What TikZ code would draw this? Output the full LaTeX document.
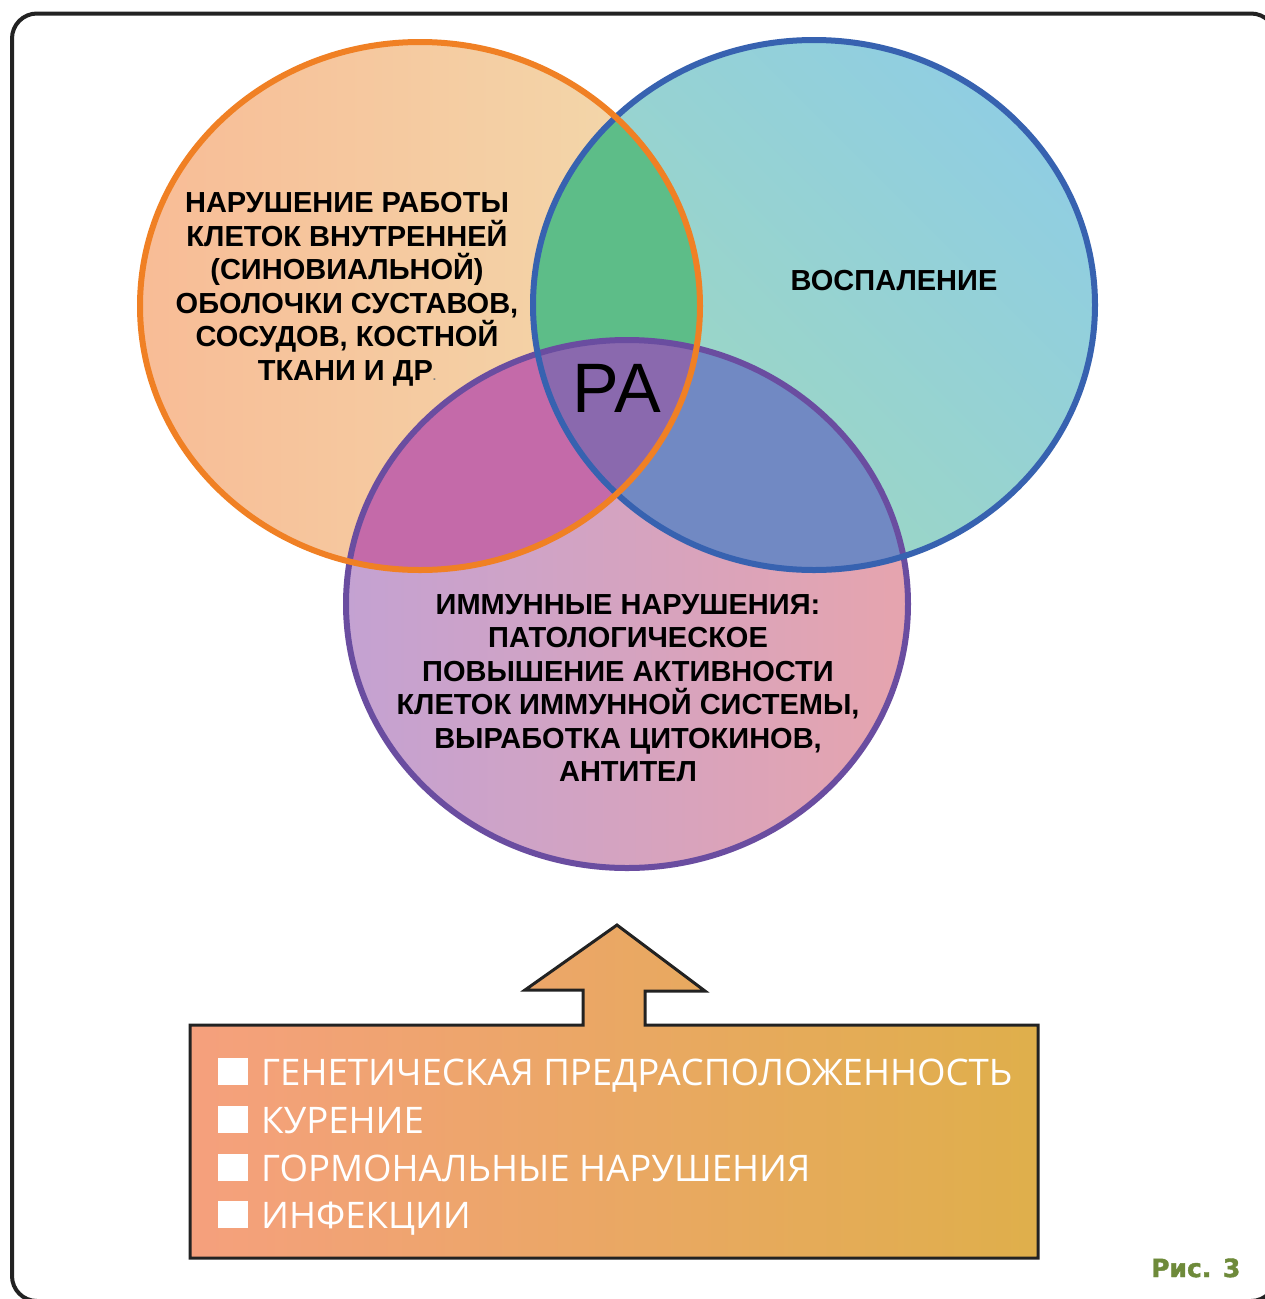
\documentclass[tikz,border=0pt]{standalone}
\usepackage{fontspec}
\setmainfont{Liberation Sans}
\newfontfamily\itemfont{Open Sans}
\newfontfamily\figfont{DejaVu Sans Bold}[FakeBold=1.6]
\definecolor{orA}{HTML}{F8BC96}
\definecolor{orB}{HTML}{F2DAAC}
\definecolor{blA}{HTML}{9ED8BE}
\definecolor{blB}{HTML}{90CEE2}
\definecolor{puA}{HTML}{C4A2D2}
\definecolor{puB}{HTML}{E6A4AE}
\definecolor{ovOB}{HTML}{5DBD88}
\definecolor{ovOP}{HTML}{C46AA9}
\definecolor{ovBP}{HTML}{7189C3}
\definecolor{ovAll}{HTML}{8A69AE}
\definecolor{lnO}{HTML}{F08024}
\definecolor{lnB}{HTML}{3762B0}
\definecolor{lnP}{HTML}{6A4DA0}
\definecolor{boxA}{HTML}{F5A07D}
\definecolor{boxB}{HTML}{DFAF4B}
\definecolor{figgreen}{HTML}{6E8A3A}
\definecolor{framecol}{HTML}{222222}
\begin{document}
\begin{tikzpicture}[x=1pt,y=-1pt,
  ring/.style={line width=6pt},
  lbl/.style={align=center, inner sep=0pt, text=black,
    font=\bfseries\fontsize{29}{33.5}\selectfont},
  item/.style={anchor=base west, inner sep=0pt, text=white,
    font=\itemfont\fontsize{36.6}{40}\selectfont}]
\useasboundingbox (0,0) rectangle (1265,1299);
\fill[white] (0,0) rectangle (1265,1299);
\begin{scope}
  \clip (0,0) rectangle (1265,1299);
  \draw[framecol, line width=4pt, rounded corners=25pt] (12,13.5) rectangle (1276,1301);
\end{scope}

% base fills
\shade[left color=orA, right color=orB] (420,306) ellipse [x radius=280pt, y radius=264pt];
\shade[bottom color=blA, top color=blB, shading angle=-45] (814,305) ellipse [x radius=281pt, y radius=265pt];
\shade[left color=puA, right color=puB] (627,604) ellipse [x radius=281pt, y radius=264pt];

% overlaps
\begin{scope}
  \clip (420,306) ellipse [x radius=280pt, y radius=264pt];
  \fill[ovOB] (814,305) ellipse [x radius=281pt, y radius=265pt];
  \fill[ovOP] (627,604) ellipse [x radius=281pt, y radius=264pt];
\end{scope}
\begin{scope}
  \clip (814,305) ellipse [x radius=281pt, y radius=265pt];
  \fill[ovBP] (627,604) ellipse [x radius=281pt, y radius=264pt];
\end{scope}
\begin{scope}
  \clip (420,306) ellipse [x radius=280pt, y radius=264pt];
  \clip (814,305) ellipse [x radius=281pt, y radius=265pt];
  \fill[ovAll] (627,604) ellipse [x radius=281pt, y radius=264pt];
\end{scope}

% outlines
\draw[ring, lnP] (627,604) ellipse [x radius=281pt, y radius=264pt];
\draw[ring, lnB] (814,305) ellipse [x radius=281pt, y radius=265pt];
\draw[ring, lnO] (420,306) ellipse [x radius=280pt, y radius=264pt];

% texts in circles
\node[lbl] (synov) at (347,289.5) {НАРУШЕНИЕ РАБОТЫ\\КЛЕТОК ВНУТРЕННЕЙ\\(СИНОВИАЛЬНОЙ)\\ОБОЛОЧКИ СУСТАВОВ,\\СОСУДОВ, КОСТНОЙ\\ТКАНИ И ДР{\fontsize{12}{12}\selectfont\color{gray}.}};
\node[lbl, anchor=base] (vospal) at (894,290) {ВОСПАЛЕНИЕ};
\node[lbl] (immun) at (628,688) {ИММУННЫЕ НАРУШЕНИЯ:\\ПАТОЛОГИЧЕСКОЕ\\ПОВЫШЕНИЕ АКТИВНОСТИ\\КЛЕТОК ИММУННОЙ СИСТЕМЫ,\\ВЫРАБОТКА ЦИТОКИНОВ,\\АНТИТЕЛ};
\node[anchor=base, inner sep=0pt, text=black, font=\fontsize{70}{70}\selectfont] (ra) at (617,412) {РА};

% box with arrow
\shadedraw[draw=framecol, line width=3pt, line join=miter, left color=boxA, right color=boxB]
  (190,1025) -- (583,1025) -- (583,990) -- (525,990) -- (617,925) -- (705,991)
  -- (645,991) -- (645,1025) -- (1038,1025) -- (1038,1258) -- (190,1258) -- cycle;

\node[item] (i1) at (218,1085) {\rule{30pt}{27pt}\hspace{13pt}ГЕНЕТИЧЕСКАЯ ПРЕДРАСПОЛОЖЕННОСТЬ};
\node[item] (i2) at (218,1133) {\rule{30pt}{27pt}\hspace{13pt}КУРЕНИЕ};
\node[item] (i3) at (218,1181) {\rule{30pt}{27pt}\hspace{13pt}ГОРМОНАЛЬНЫЕ НАРУШЕНИЯ};
\node[item] (i4) at (218,1228) {\rule{30pt}{27pt}\hspace{13pt}ИНФЕКЦИИ};

\node[anchor=base west, inner sep=0pt, text=figgreen,
  font=\figfont\fontsize{25}{25}\selectfont] (fig) at (1151,1277) {Рис. 3};
\end{tikzpicture}
\end{document}
